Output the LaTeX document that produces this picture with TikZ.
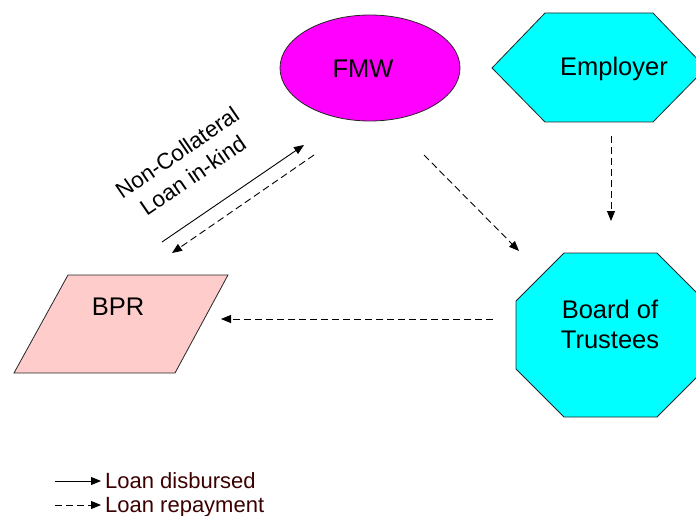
\documentclass[tikz,border=0pt]{standalone}
\usepackage{fontspec}
\setmainfont{Liberation Sans}
\usetikzlibrary{arrows.meta}
\definecolor{fmwc}{RGB}{255,0,255}
\definecolor{cyanc}{RGB}{0,255,255}
\definecolor{bprc}{RGB}{255,204,204}
\definecolor{legc}{RGB}{60,0,0}
\begin{document}
\begin{tikzpicture}[x=1pt,y=-1pt,
  shapeb/.style={draw=black!85, line width=0.8pt},
  lbl/.style={font=\fontsize{25.5}{30}\selectfont, align=center, inner sep=0pt},
  edgelbl/.style={font=\fontsize{22.5}{27.8}\selectfont, align=center, inner sep=0pt},
  leglbl/.style={font=\fontsize{22}{26}\selectfont, text=legc, inner sep=0pt, anchor=base west},
  solidarr/.style={-{Triangle[length=10pt,width=8pt]}, line width=0.9pt},
  dasharr/.style={solidarr, dash pattern=on 7pt off 4pt}]
\useasboundingbox (0,0) rectangle (696,516);
\clip (0,0) rectangle (696,516);
% shapes
\draw[shapeb, fill=fmwc] (370,68) ellipse [x radius=90, y radius=53];
\node[lbl] (fmw) at (363,69) {FMW};
\draw[shapeb, fill=cyanc] (492,68) -- (545,13) -- (653,13) -- (706,68) -- (653,122) -- (545,122) -- cycle;
\node[lbl] (emp) at (614,69) {Employer};
\draw[shapeb, fill=cyanc] (564,253) -- (657,253) -- (705,301) -- (705,369) -- (657,417) -- (564,417) -- (516,369) -- (516,301) -- cycle;
\node[lbl] (bot) at (610,324) {Board of\\Trustees};
\draw[shapeb, fill=bprc] (68,275) -- (228,275) -- (175,373) -- (14,373) -- cycle;
\node[lbl] (bpr) at (118,307) {BPR};
% connector ends
\coordinate (s1) at (162,242); \coordinate (e1) at (304,145);
\coordinate (s2) at (314,155); \coordinate (e2) at (172,253);
\coordinate (s3) at (424,155); \coordinate (e3) at (519,251);
\coordinate (s4) at (611,136); \coordinate (e4) at (611,221);
\coordinate (s5) at (493,319); \coordinate (e5) at (221,319);
\draw[solidarr] (s1) -- (e1);
\draw[dasharr] (s2) -- (e2);
\draw[dasharr] (s3) -- (e3);
\draw[dasharr] (s4) -- (e4);
\draw[dasharr] (s5) -- (e5);
\node[edgelbl, rotate=34.5] (loanlbl) at (185,164) {Non-Collateral\\Loan in-kind};
% legend
\coordinate (l1s) at (55,481); \coordinate (l1e) at (101,481);
\coordinate (l2s) at (55,505); \coordinate (l2e) at (101,505);
\draw[solidarr] (l1s) -- (l1e);
\draw[dasharr] (l2s) -- (l2e);
\node[leglbl] (leg1) at (105,488) {Loan disbursed};
\node[leglbl] (leg2) at (105,512) {Loan repayment};
\end{tikzpicture}
\end{document}
